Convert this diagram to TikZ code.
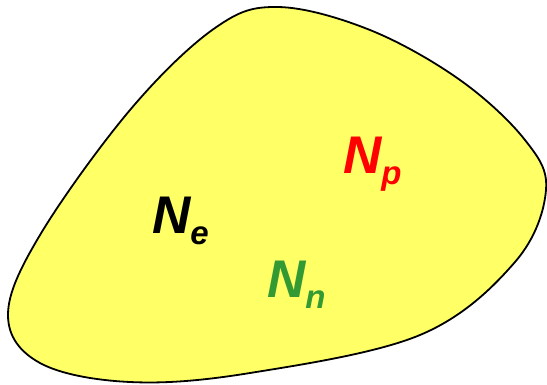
\documentclass[tikz,border=0pt]{standalone}
\usepackage{fontspec}
\setmainfont{Liberation Sans}
\usetikzlibrary{positioning}
\definecolor{blobyellow}{RGB}{255,255,102}
\definecolor{labred}{RGB}{255,0,0}
\definecolor{labgreen}{RGB}{51,153,51}
\newcommand{\Nsub}[1]{N\raisebox{-11pt}{\fontsize{33}{33}\selectfont #1}}
\tikzset{
  blob/.style={draw=black, fill=blobyellow, line width=1.8pt},
  lab/.style={anchor=base west, inner sep=0pt,
              font=\fontsize{53}{53}\selectfont\bfseries\itshape},
}
\begin{document}
\begin{tikzpicture}[x=1pt, y=-1pt]
  \useasboundingbox (0,0) rectangle (547,384);
  % the region
  \draw[blob] plot[smooth cycle, tension=0.6] coordinates {
    (278,7) (370,30) (460,80) (525,140) (546,190) (515,262) (420,335)
    (250,373) (130,382) (40,363) (8,315) (40,235) (130,110) (215,28)};
  % counts
  \node[lab, text=black]    (ne) at (152,233) {\Nsub{e}};
  \node[lab, text=labred]   (np) at (343,173) {\Nsub{p}};
  \node[lab, text=labgreen] (nn) at (267,297) {\Nsub{n}};
\end{tikzpicture}
\end{document}
